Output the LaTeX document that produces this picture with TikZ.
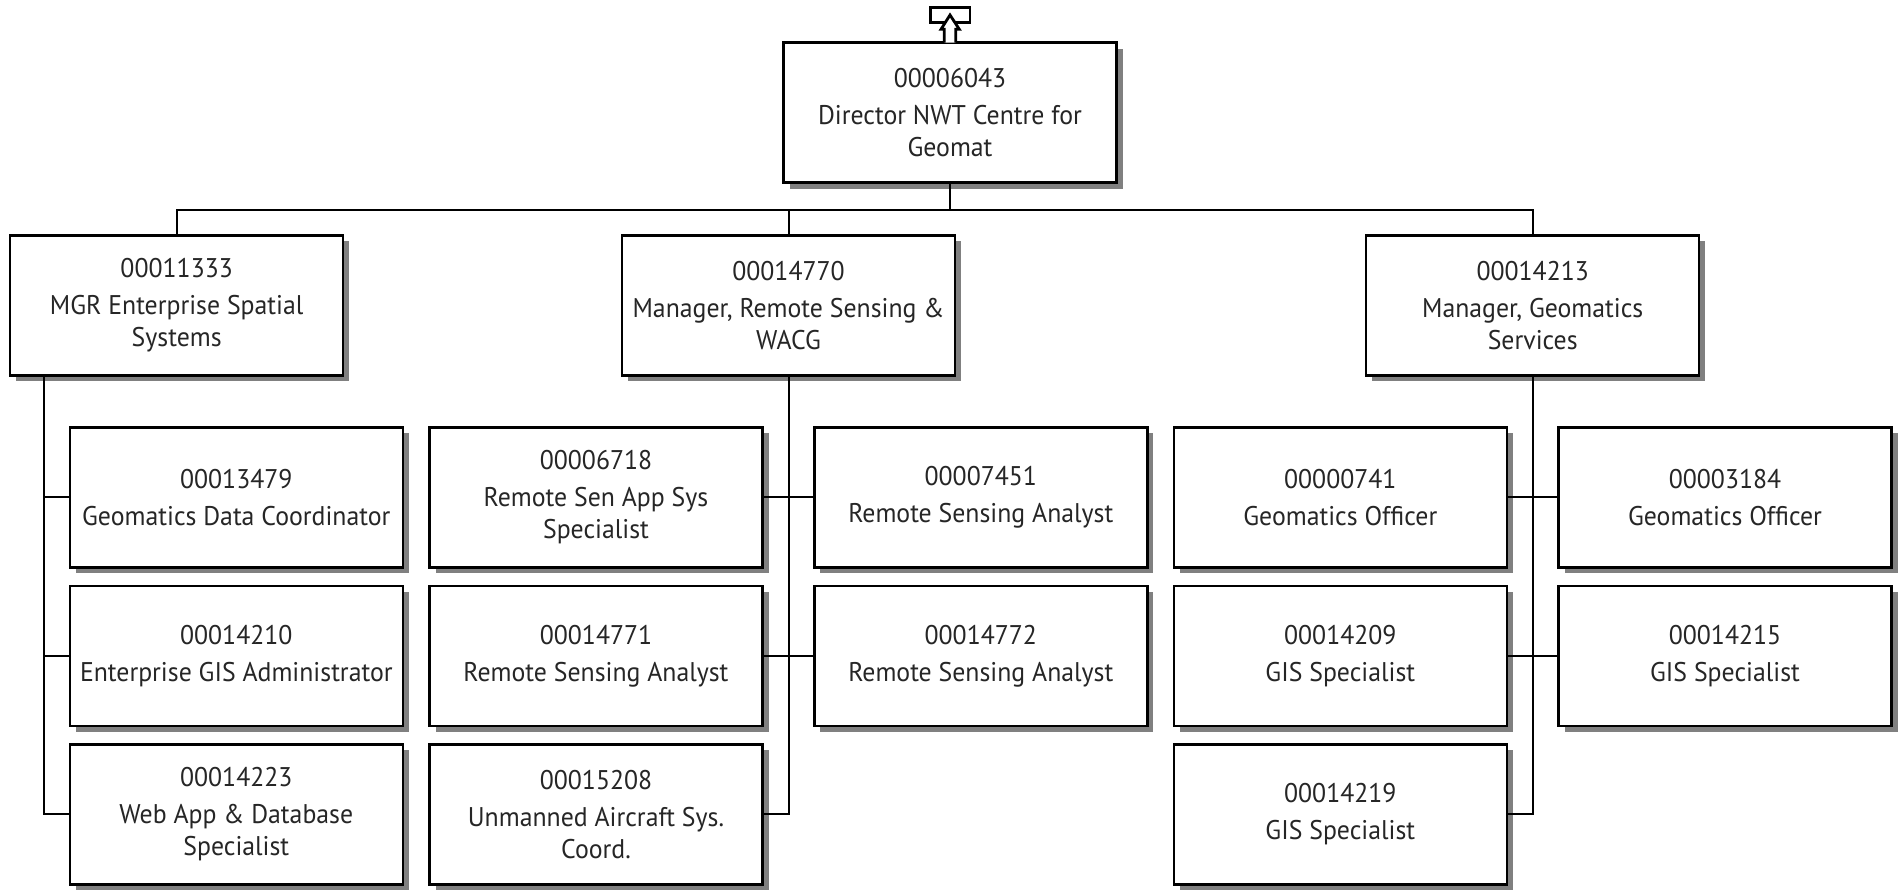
\documentclass[tikz,border=0pt]{standalone}
\usepackage{fontspec}
\setmainfont{PT Sans}[FakeStretch=0.955]
\usetikzlibrary{shadows}
\begin{document}
\begin{tikzpicture}[x=1pt,y=-1pt,
  posbox/.style={draw=black, line width=2.5pt, fill=white, minimum width=333pt, minimum height=140pt,
    inner sep=0pt, align=center, text=black!85,
    font=\fontsize{27}{32}\selectfont,
    drop shadow={shadow xshift=6pt, shadow yshift=-6pt, fill=black!50, opacity=1}},
  link/.style={draw=black, line width=2pt},
  icon/.style={draw=black, line width=2.8pt, fill=white, line join=miter}]
\useasboundingbox (0,0) rectangle (1902,889);
% top
\node[posbox] (top) at (950,112.7) {00006043\\[5pt]Director NWT Centre for\\Geomat};
% managers
\node[posbox] (A) at (176.7,305.3) {00011333\\[5pt]MGR Enterprise Spatial\\Systems};
\node[posbox] (B) at (788.5,305.3) {00014770\\[5pt]Manager, Remote Sensing \&\\WACG};
\node[posbox] (C) at (1532.7,305.3) {00014213\\[5pt]Manager, Geomatics\\Services};
% A children
\node[posbox] (a1) at (236.3,497.3) {00013479\\[5pt]Geomatics Data Coordinator};
\node[posbox] (a2) at (236.3,656) {00014210\\[5pt]Enterprise GIS Administrator};
\node[posbox] (a3) at (236.3,814.3) {00014223\\[5pt]Web App \& Database\\Specialist};
% B children
\node[posbox] (b1) at (596,497.3) {00006718\\[5pt]Remote Sen App Sys\\Specialist};
\node[posbox] (b2) at (596,656) {00014771\\[5pt]Remote Sensing Analyst};
\node[posbox] (b3) at (596,814.3) {00015208\\[5pt]Unmanned Aircraft Sys.\\Coord.};
\node[posbox] (b4) at (980.8,497.3) {00007451\\[5pt]Remote Sensing Analyst};
\node[posbox] (b5) at (980.8,656) {00014772\\[5pt]Remote Sensing Analyst};
% C children
\node[posbox] (c1) at (1340.3,497.3) {00000741\\[5pt]Geomatics Officer};
\node[posbox] (c2) at (1340.3,656) {00014209\\[5pt]GIS Specialist};
\node[posbox] (c3) at (1340.3,814.3) {00014219\\[5pt]GIS Specialist};
\node[posbox] (c4) at (1725,497.3) {00003184\\[5pt]Geomatics Officer};
\node[posbox] (c5) at (1725,656) {00014215\\[5pt]GIS Specialist};
% connectors
\coordinate (bus) at (950,209.5);
\coordinate (aS) at (44,0);
\draw[link] (top.south) -- (bus);
\draw[link] (A.north) |- (bus) -| (C.north);
\draw[link] (B.north) -- (B.north |- bus);
\draw[link] (A.south -| aS) |- (a3.west);
\draw[link] (a1.west) -- (a1.west -| aS);
\draw[link] (a2.west) -- (a2.west -| aS);
\draw[link] (B.south) |- (b3.east);
\draw[link] (b1.east) -- (b4.west);
\draw[link] (b2.east) -- (b5.west);
\draw[link] (C.south) |- (c3.east);
\draw[link] (c1.east) -- (c4.west);
\draw[link] (c2.east) -- (c5.west);
% top icon
\draw[icon] (930.7,7.3) rectangle (970,22.7);
\draw[icon] (944.3,42.7) -- (944.3,29.3) -- (941,29.3) -- (950,15) -- (959.3,29.3) -- (955.7,29.3) -- (955.7,42.7);
\end{tikzpicture}
\end{document}
